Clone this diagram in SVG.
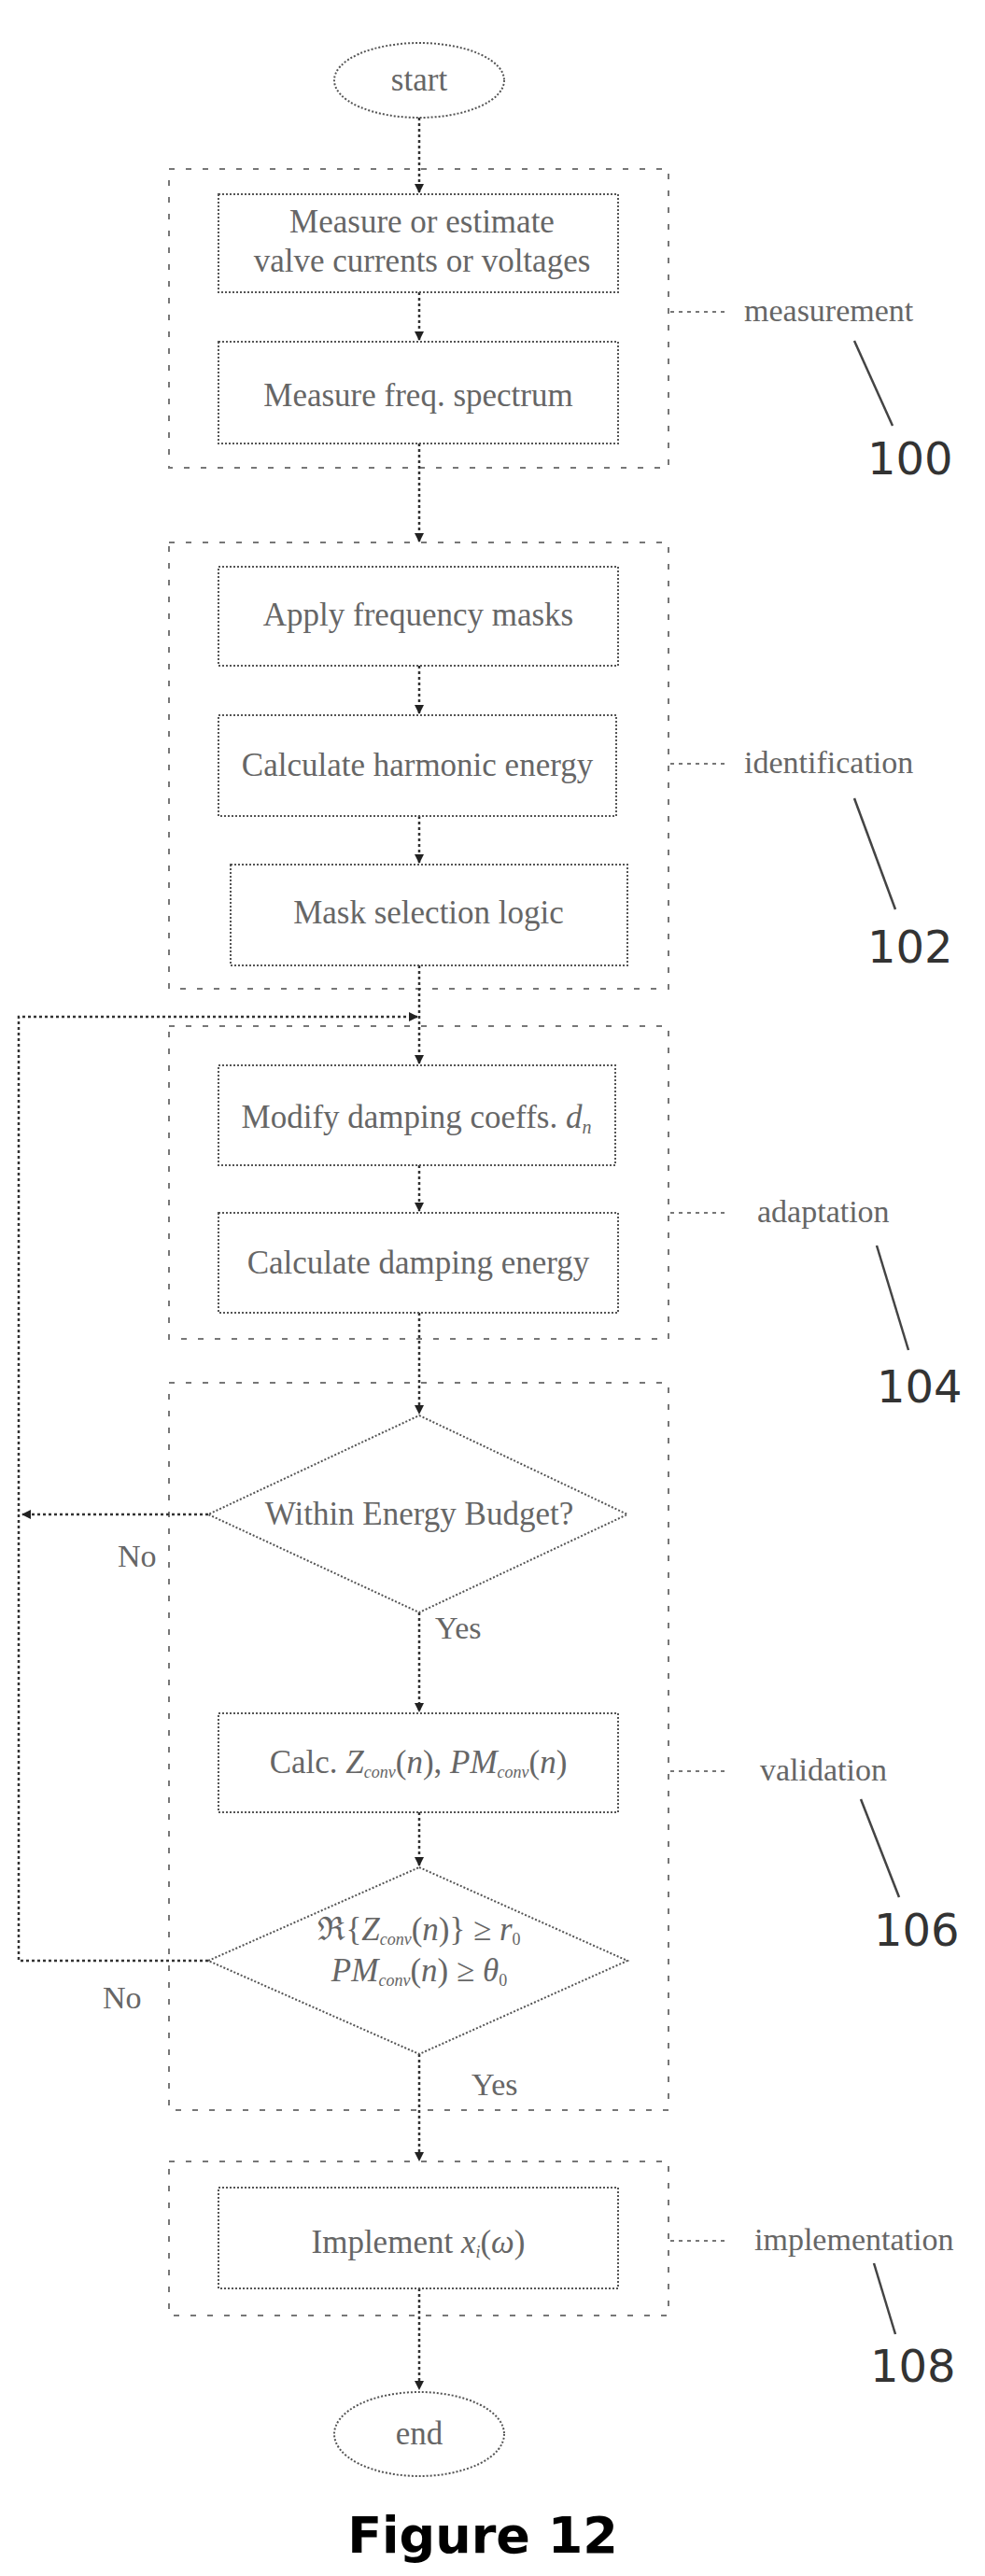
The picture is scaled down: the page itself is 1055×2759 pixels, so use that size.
<svg xmlns="http://www.w3.org/2000/svg" width="1055" height="2759" viewBox="0 0 1055 2759">
<style>
.grp{fill:none;stroke:#777;stroke-width:2;stroke-dasharray:6,12}
.box{fill:#fff;stroke:#555;stroke-width:2;stroke-dasharray:2,2}
.t{font-family:"Liberation Serif",serif;font-size:35px;fill:#666;text-anchor:middle}
.lbl{font-family:"Liberation Serif",serif;font-size:34px;fill:#666}
.num{font-family:"DejaVu Sans",sans-serif;font-size:48px;fill:#333}
.c{fill:none;stroke:#333;stroke-width:2.5;stroke-dasharray:3,3}
.lead{stroke:#444;stroke-width:2.5}
.dash{stroke:#777;stroke-width:2;stroke-dasharray:4,5}
</style>
<defs><marker id="a" markerWidth="10" markerHeight="10" refX="9" refY="5" orient="auto" markerUnits="userSpaceOnUse"><path d="M0,0 L10,5 L0,10 z" fill="#222"/></marker></defs>
<g id="groups">
<rect class="grp" x="181" y="181" width="535" height="320"/>
<rect class="grp" x="181" y="581" width="535" height="478"/>
<rect class="grp" x="181" y="1099" width="535" height="335"/>
<rect class="grp" x="181" y="1481" width="535" height="779"/>
<rect class="grp" x="181" y="2315" width="535" height="165"/>
</g>
<g id="connectors">
<line class="c" x1="449" y1="126" x2="449" y2="206" marker-end="url(#a)"/>
<line class="c" x1="449" y1="313" x2="449" y2="364" marker-end="url(#a)"/>
<line class="c" x1="449" y1="475" x2="449" y2="580" marker-end="url(#a)"/>
<line class="c" x1="449" y1="713" x2="449" y2="764" marker-end="url(#a)"/>
<line class="c" x1="449" y1="874" x2="449" y2="924" marker-end="url(#a)"/>
<line class="c" x1="449" y1="1034" x2="449" y2="1139" marker-end="url(#a)"/>
<polyline class="c" points="223,2100 20,2100 20,1089 447,1089" marker-end="url(#a)"/>
<line class="c" x1="449" y1="1248" x2="449" y2="1297" marker-end="url(#a)"/>
<line class="c" x1="449" y1="1406" x2="449" y2="1514" marker-end="url(#a)"/>
<line class="c" x1="223" y1="1622" x2="24" y2="1622" marker-end="url(#a)"/>
<line class="c" x1="449" y1="1727" x2="449" y2="1833" marker-end="url(#a)"/>
<line class="c" x1="449" y1="1941" x2="449" y2="1998" marker-end="url(#a)"/>
<line class="c" x1="449" y1="2200" x2="449" y2="2314" marker-end="url(#a)"/>
<line class="c" x1="449" y1="2451" x2="449" y2="2559" marker-end="url(#a)"/>
</g>
<g id="start"><ellipse class="box" cx="449" cy="86" rx="91" ry="40"/><text class="t" x="449" y="97">start</text></g>
<g id="n1"><rect class="box" x="234" y="208" width="428" height="105"/><text class="t" x="452" y="249">Measure or estimate</text><text class="t" x="452" y="291">valve currents or voltages</text></g>
<g id="n2"><rect class="box" x="234" y="366" width="428" height="109"/><text class="t" x="448" y="435">Measure freq. spectrum</text></g>
<g id="n3"><rect class="box" x="234" y="607" width="428" height="106"/><text class="t" x="448" y="670">Apply frequency masks</text></g>
<g id="n4"><rect class="box" x="234" y="766" width="426" height="108"/><text class="t" x="447" y="831">Calculate harmonic energy</text></g>
<g id="n5"><rect class="box" x="247" y="926" width="425" height="108"/><text class="t" x="459" y="989">Mask selection logic</text></g>
<g id="n6"><rect class="box" x="234" y="1141" width="425" height="107"/><text class="t" x="446" y="1208">Modify damping coeffs. <tspan font-style="italic">d</tspan><tspan font-style="italic" font-size="20" dy="6">n</tspan></text></g>
<g id="n7"><rect class="box" x="234" y="1299" width="428" height="107"/><text class="t" x="448" y="1364">Calculate damping energy</text></g>
<g id="d1"><polygon class="box" points="449,1516 672,1622 449,1727 223,1622"/><text class="t" x="449" y="1633">Within Energy Budget?</text></g>
<g id="n8"><rect class="box" x="234" y="1835" width="428" height="106"/><text class="t" x="448" y="1899">Calc. <tspan font-style="italic">Z</tspan><tspan font-style="italic" font-size="18" dy="5">conv</tspan><tspan dy="-5">(</tspan><tspan font-style="italic">n</tspan>), <tspan font-style="italic">PM</tspan><tspan font-style="italic" font-size="18" dy="5">conv</tspan><tspan dy="-5">(</tspan><tspan font-style="italic">n</tspan>)</text></g>
<g id="d2"><polygon class="box" points="449,2000 672,2100 449,2200 223,2100"/><text class="t" x="449" y="2078">ℜ{<tspan font-style="italic">Z</tspan><tspan font-style="italic" font-size="18" dy="5">conv</tspan><tspan dy="-5">(</tspan><tspan font-style="italic">n</tspan>)} ≥ <tspan font-style="italic">r</tspan><tspan font-size="18" dy="5">0</tspan></text><text class="t" x="449" y="2122"><tspan font-style="italic">PM</tspan><tspan font-style="italic" font-size="18" dy="5">conv</tspan><tspan dy="-5">(</tspan><tspan font-style="italic">n</tspan>) ≥ <tspan font-style="italic">θ</tspan><tspan font-size="18" dy="5">0</tspan></text></g>
<g id="n9"><rect class="box" x="234" y="2343" width="428" height="108"/><text class="t" x="448" y="2413">Implement <tspan font-style="italic">x</tspan><tspan font-style="italic" font-size="18" dy="5">i</tspan><tspan dy="-5">(</tspan><tspan font-style="italic">ω</tspan>)</text></g>
<g id="end"><ellipse class="box" cx="449" cy="2607" rx="91" ry="45"/><text class="t" x="449" y="2618">end</text></g>
<g id="edge-labels">
<text class="lbl" x="126" y="1678">No</text><text class="lbl" x="466" y="1755">Yes</text>
<text class="lbl" x="110" y="2151">No</text><text class="lbl" x="505" y="2244">Yes</text>
</g>
<g id="annotations">
<line class="dash" x1="718" y1="334" x2="778" y2="334"/><text class="lbl" x="797" y="344">measurement</text><line class="lead" x1="915" y1="365" x2="956" y2="456"/><text class="num" x="929" y="508">100</text>
<line class="dash" x1="718" y1="818" x2="778" y2="818"/><text class="lbl" x="797" y="828">identification</text><line class="lead" x1="915" y1="855" x2="959" y2="974"/><text class="num" x="929" y="1031">102</text>
<line class="dash" x1="718" y1="1299" x2="778" y2="1299"/><text class="lbl" x="811" y="1309">adaptation</text><line class="lead" x1="939" y1="1334" x2="973" y2="1446"/><text class="num" x="939" y="1502">104</text>
<line class="dash" x1="718" y1="1897" x2="778" y2="1897"/><text class="lbl" x="814" y="1907">validation</text><line class="lead" x1="922" y1="1927" x2="963" y2="2032"/><text class="num" x="936" y="2084">106</text>
<line class="dash" x1="718" y1="2400" x2="778" y2="2400"/><text class="lbl" x="808" y="2410">implementation</text><line class="lead" x1="936" y1="2424" x2="959" y2="2500"/><text class="num" x="932" y="2551">108</text>
<text x="517" y="2734" font-family="DejaVu Sans,sans-serif" font-weight="bold" font-size="54" text-anchor="middle" fill="#000">Figure 12</text>
</g>
</svg>
